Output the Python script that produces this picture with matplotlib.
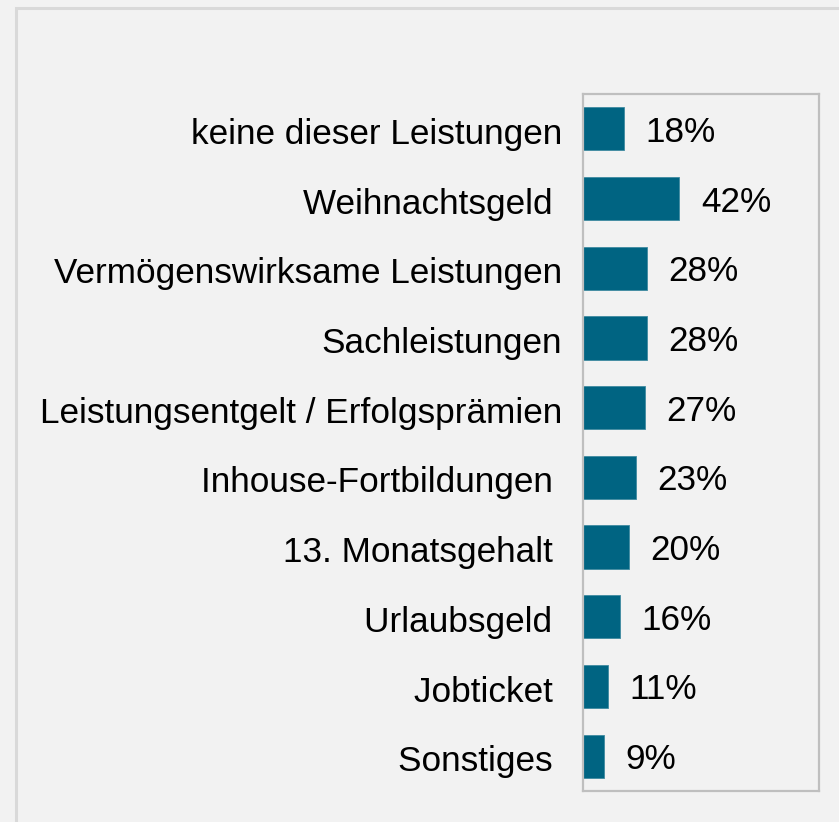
import numpy as np
import matplotlib.pyplot as plt
import matplotlib.transforms as mtransforms
from matplotlib.patches import Rectangle

plt.rcParams['font.family'] = ['Liberation Sans', 'DejaVu Sans']

categories = ['keine dieser Leistungen', 'Weihnachtsgeld ', 'Vermögenswirksame Leistungen',
              'Sachleistungen', 'Leistungsentgelt / Erfolgsprämien', 'Inhouse-Fortbildungen ',
              '13. Monatsgehalt ', 'Urlaubsgeld ', 'Jobticket ', 'Sonstiges ']
values = [18, 42, 28, 28, 27, 23, 20, 16, 11, 9]

bg = '#f2f2f2'
bar_color = '#006482'
fs = 25.3

fig = plt.figure(figsize=(8.39, 8.22), dpi=100, facecolor=bg)
# outer frame, only top and left edges visible
fig.patches.append(Rectangle((16 / 839, -0.1), 1.2, 1.1 - 8 / 822, transform=fig.transFigure,
                             fill=False, edgecolor='#d9d9d9', linewidth=2.2, zorder=0))

ax = fig.add_axes([583 / 839, 31 / 822, 236 / 839, 697 / 822])
ax.set_facecolor(bg)

y = np.arange(len(categories))
ax.barh(y, values, height=0.62, color=bar_color, edgecolor='#3f8aa0', linewidth=0.6, zorder=2)

for yi, v in zip(y, values):
    ax.annotate(f'{v}%', xy=(v, yi), xytext=(15.5, -2.5), textcoords='offset points',
                va='center', ha='left', fontsize=fs, color='black')

ax.set_xlim(0, 103)
ax.set_ylim(len(categories) - 0.5, -0.5)
ax.set_xticks([])
ax.set_yticks(y)
ax.set_yticklabels(categories, fontsize=fs)
ax.tick_params(axis='y', length=0, pad=15)
shift = mtransforms.ScaledTranslation(0, -1.5 / 72, fig.dpi_scale_trans)
for lbl in ax.get_yticklabels():
    lbl.set_transform(lbl.get_transform() + shift)

for s in ax.spines.values():
    s.set_color('#bfbfbf')
    s.set_linewidth(1.6)

plt.savefig('out.png', dpi=100, facecolor=bg)
